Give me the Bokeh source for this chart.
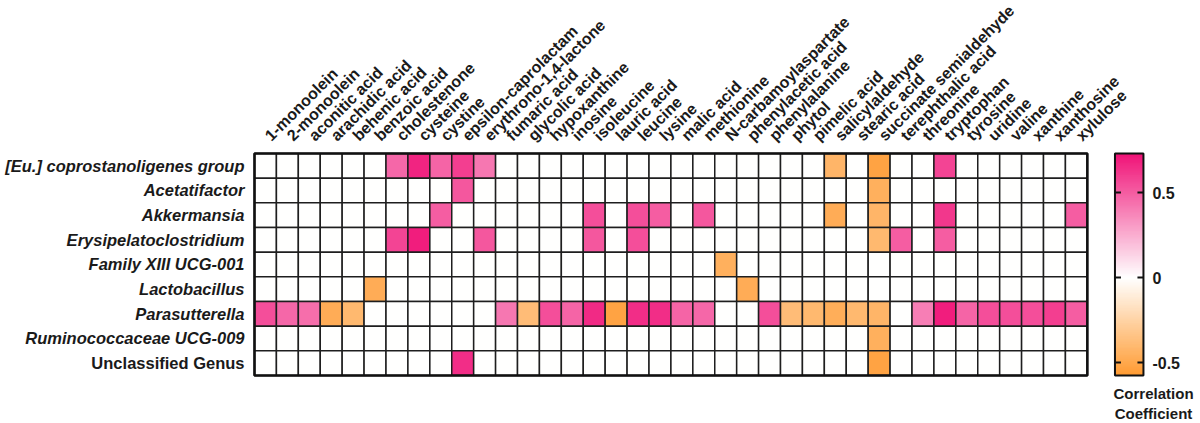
import numpy as np
from bokeh.plotting import figure
from bokeh.models import ColumnDataSource, Range1d, LinearColorMapper
from bokeh.core.properties import value
from bokeh.embed import file_html
from bokeh.resources import INLINE

# ---- data -------------------------------------------------------------
metabolites = [
    "1-monoolein", "2-monoolein", "aconitic acid", "arachidic acid", "behenic acid",
    "benzoic acid", "cholestenone", "cysteine", "cystine", "epsilon-caprolactam",
    "erythrono-1,4-lactone", "fumaric acid", "glycolic acid", "hypoxanthine", "inosine",
    "isoleucine", "lauric acid", "leucine", "lysine", "malic acid", "methionine",
    "N-carbamoylaspartate", "phenylacetic acid", "phenylalanine", "phytol", "pimelic acid",
    "salicylaldehyde", "stearic acid", "succinate semialdehyde", "terephthalic acid",
    "threonine", "tryptophan", "tyrosine", "uridine", "valine", "xanthine", "xanthosine",
    "xylulose",
]

genera = [
    "[Eu.] coprostanoligenes group", "Acetatifactor", "Akkermansia",
    "Erysipelatoclostridium", "Family XIII UCG-001", "Lactobacillus",
    "Parasutterella", "Ruminococcaceae UCG-009", "Unclassified Genus",
]
genus_style = ["bold italic"] * 8 + ["bold"]

# correlation coefficients (0 = not significant)
r_eu = [0, 0, 0, 0, 0, 0, 0.47, 0.68, 0.48, 0.60,
        0.42, 0, 0, 0, 0, 0, 0, 0, 0, 0,
        0, 0, 0, 0, 0, 0, -0.42, 0, -0.52, 0,
        0, 0.58, 0, 0, 0, 0, 0, 0]
r_acetatifactor = [0, 0, 0, 0, 0, 0, 0, 0, 0, 0.52,
                   0, 0, 0, 0, 0, 0, 0, 0, 0, 0,
                   0, 0, 0, 0, 0, 0, 0, 0, -0.45, 0,
                   0, 0, 0, 0, 0, 0, 0, 0]
r_akkermansia = [0, 0, 0, 0, 0, 0, 0, 0, 0.50, 0,
                 0, 0, 0, 0, 0, 0.55, 0, 0.55, 0.50, 0,
                 0.52, 0, 0, 0, 0, 0, -0.47, 0, -0.42, 0,
                 0, 0.62, 0, 0, 0, 0, 0, 0.50]
r_erysipelato = [0, 0, 0, 0, 0, 0, 0.58, 0.70, 0, 0,
                 0.52, 0, 0, 0, 0, 0.52, 0, 0.55, 0, 0,
                 0, 0, 0, 0, 0, 0, 0, 0, -0.40, 0.50,
                 0, 0.50, 0, 0, 0, 0, 0, 0]
r_family13 = [0, 0, 0, 0, 0, 0, 0, 0, 0, 0,
              0, 0, 0, 0, 0, 0, 0, 0, 0, 0,
              0, -0.45, 0, 0, 0, 0, 0, 0, 0, 0,
              0, 0, 0, 0, 0, 0, 0, 0]
r_lactobacillus = [0, 0, 0, 0, 0, -0.47, 0, 0, 0, 0,
                   0, 0, 0, 0, 0, 0, 0, 0, 0, 0,
                   0, 0, -0.47, 0, 0, 0, 0, 0, 0, 0,
                   0, 0, 0, 0, 0, 0, 0, 0]
r_parasutterella = [0.55, 0.47, 0.45, -0.47, -0.40, 0, 0, 0, 0, 0,
                    0, 0.42, -0.38, 0.55, 0.48, 0.66, -0.52, 0.65, 0.65, 0.48,
                    0.47, 0, 0, 0.55, -0.38, -0.40, -0.46, -0.40, -0.42, 0,
                    0.40, 0.70, 0.48, 0.55, 0.55, 0.55, 0.60, 0.50]
r_ruminococ = [0, 0, 0, 0, 0, 0, 0, 0, 0, 0,
               0, 0, 0, 0, 0, 0, 0, 0, 0, 0,
               0, 0, 0, 0, 0, 0, 0, 0, -0.45, 0,
               0, 0, 0, 0, 0, 0, 0, 0]
r_unclassified = [0, 0, 0, 0, 0, 0, 0, 0, 0, 0.65,
                  0, 0, 0, 0, 0, 0, 0, 0, 0, 0,
                  0, 0, 0, 0, 0, 0, 0, 0, -0.52, 0,
                  0, 0, 0, 0, 0, 0, 0, 0]

rows = [r_eu, r_acetatifactor, r_akkermansia, r_erysipelato, r_family13,
        r_lactobacillus, r_parasutterella, r_ruminococ, r_unclassified]

cbar_ticks = [-0.5, 0, 0.5]
cbar_tick_labels = ["-0.5", "0", "0.5"]
cbar_low, cbar_high = -0.576, 0.729

FONT = value("Liberation Sans")
INK = "#1a1a1a"

# ---- colour scale: orange -> white -> pink, white at zero --------------
PINK = (240, 20, 120)
ORANGE = (255, 154, 48)
WHITE = (255, 255, 255)
N = 256
palette = []
for i in range(N):
    v = cbar_low + (i + 0.5) * (cbar_high - cbar_low) / N
    if v >= 0:
        t, end = v / cbar_high, PINK
    else:
        t, end = v / cbar_low, ORANGE
    c = [round(WHITE[k] + (end[k] - WHITE[k]) * t) for k in range(3)]
    palette.append("#%02x%02x%02x" % tuple(c))
mapper = LinearColorMapper(palette=palette, low=cbar_low, high=cbar_high)

# ---- figure: the plotting frame covers the whole canvas ----------------
W, H = 1200, 423
cell_w, cell_h = 21.917, 24.667          # pixels per cell
x0 = -254 / cell_w
y0 = -48 / cell_h
n_col, n_row = len(metabolites), len(genera)

p = figure(width=W, height=H,
           x_range=Range1d(x0, x0 + W / cell_w), y_range=Range1d(y0, y0 + H / cell_h),
           x_axis_type=None, y_axis_type=None,
           toolbar_location=None, output_backend="svg",
           min_border=0)
p.outline_line_color = None
p.background_fill_color = "white"
p.border_fill_color = "white"
# colour-bar value axis: 0 sits 146 px above the bottom, 170 px per unit
p.extra_y_ranges = {"cbar": Range1d(-146 / 170, (H - 146) / 170)}

xs, ys, rs = [], [], []
for ri, vals in enumerate(rows):
    for ci, v in enumerate(vals):
        xs.append(ci + 0.5)
        ys.append(n_row - ri - 0.5)
        rs.append(v)
cells = ColumnDataSource(dict(x=xs, y=ys, r=rs))
p.rect("x", "y", width=1, height=1, source=cells,
       fill_color={"field": "r", "transform": mapper},
       line_color="#1e1e1e", line_width=1.5)
p.rect(x=n_col / 2, y=n_row / 2, width=n_col, height=n_row,
       fill_color=None, line_color="#111111", line_width=2.6)

# column labels (rotated 45 degrees)
col_src = ColumnDataSource(dict(x=[i + 0.6 for i in range(n_col)],
                                y=[n_row + 0.62] * n_col, text=metabolites))
p.text("x", "y", text="text", source=col_src, angle=np.pi / 4,
       text_align="left", text_baseline="alphabetic",
       text_font=FONT, text_font_size="16px", text_font_style="bold",
       text_color=INK)

# row labels
row_src = ColumnDataSource(dict(x=[-0.456] * n_row,
                                y=[n_row - i - 0.5 for i in range(n_row)],
                                text=genera, style=genus_style))
p.text("x", "y", text="text", source=row_src,
       text_align="right", text_baseline="middle",
       text_font=FONT, text_font_size="16.5px", text_font_style="style",
       text_color=INK)

# ---- colour bar ----------------------------------------------------------
cb_left, cb_right = 39.26, 40.56
edges = np.linspace(cbar_low, cbar_high, 221)
grad = ColumnDataSource(dict(bottom=edges[:-1], top=edges[1:],
                             mid=(edges[:-1] + edges[1:]) / 2))
p.quad(left=cb_left, right=cb_right, bottom="bottom", top="top", source=grad,
       fill_color={"field": "mid", "transform": mapper},
       line_color={"field": "mid", "transform": mapper}, line_width=1,
       y_range_name="cbar")
p.quad(left=cb_left, right=cb_right, bottom=cbar_low, top=cbar_high,
       fill_color=None, line_color="#111111", line_width=2, y_range_name="cbar")
tick_len = 6 / cell_w
p.segment(x0=[cb_left] * 3, x1=[cb_left + tick_len] * 3, y0=cbar_ticks, y1=cbar_ticks,
          line_color="#111111", line_width=2, y_range_name="cbar")
p.segment(x0=[cb_right - tick_len] * 3, x1=[cb_right] * 3, y0=cbar_ticks, y1=cbar_ticks,
          line_color="#111111", line_width=2, y_range_name="cbar")

tick_src = ColumnDataSource(dict(x=[cb_right + 0.41] * 3, y=cbar_ticks,
                                 text=cbar_tick_labels))
p.text("x", "y", text="text", source=tick_src, y_range_name="cbar",
       text_align="left", text_baseline="middle",
       text_font=FONT, text_font_size="16px", text_font_style="bold",
       text_color=INK)

title_src = ColumnDataSource(dict(x=[41.02, 41.02], y=[-0.73, -1.54],
                                  text=["Correlation", "Coefficient"]))
p.text("x", "y", text="text", source=title_src,
       text_align="center", text_baseline="middle",
       text_font=FONT, text_font_size="15px", text_font_style="bold",
       text_color=INK)

open("out.html", "w").write(file_html(p, INLINE))
